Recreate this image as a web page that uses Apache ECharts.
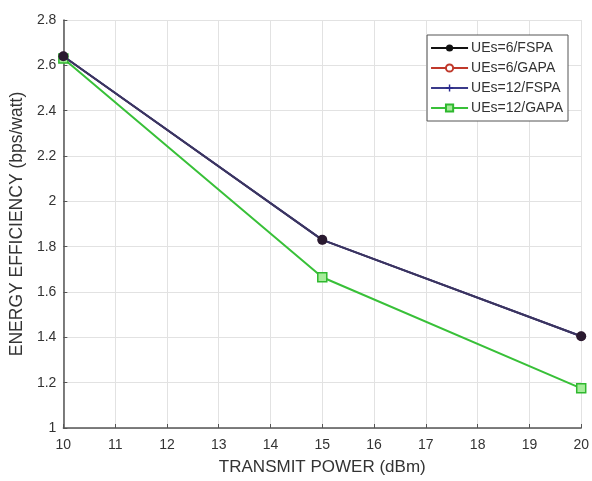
<!DOCTYPE html>
<html>
<head>
<meta charset="utf-8">
<script src="https://cdn.jsdelivr.net/npm/echarts@6/dist/echarts.min.js"></script>
<style>
  html, body { margin: 0; padding: 0; background: #fff; }
  #chart { width: 592px; height: 481px; }
</style>
</head>
<body>
<div id="chart"></div>
<script>
// data
var powers = [10, 15, 20];
var ue6Fspa = [2.64, 1.83, 1.405];
var ue6Gapa = [2.64, 1.83, 1.405];
var ue12Fspa = [2.64, 1.83, 1.405];
var ue12Gapa = [2.63, 1.665, 1.175];

function pairs(vals) {
  return powers.map(function (p, i) { return [p, vals[i]]; });
}

var font = 'Liberation Sans';
var chart = echarts.init(document.getElementById('chart'));

var option = {
  animation: false,
  grid: { left: 63, right: 8, top: 20, bottom: 51 },
  legend: {
    orient: 'vertical',
    right: 24,
    top: 35,
    padding: [6, 5, 6, 3],
    itemGap: 6,
    itemWidth: 37,
    itemHeight: 9,
    borderColor: '#555',
    borderWidth: 1,
    backgroundColor: '#fff',
    textStyle: { fontFamily: font, fontSize: 14, color: '#333', padding: [0, 0, 0, -2] },
    data: [
      { name: 'UEs=6/FSPA', lineStyle: { color: '#111' }, itemStyle: { color: '#111' } },
      { name: 'UEs=6/GAPA' },
      { name: 'UEs=12/FSPA' },
      { name: 'UEs=12/GAPA' }
    ]
  },
  xAxis: {
    type: 'value',
    min: 10,
    max: 20,
    interval: 1,
    name: 'TRANSMIT POWER (dBm)',
    nameLocation: 'middle',
    nameGap: 31,
    nameTextStyle: { fontFamily: font, fontSize: 17, color: '#333' },
    axisLine: { lineStyle: { color: '#555', width: 1.5 } },
    axisTick: { inside: true, length: 4, lineStyle: { color: '#555' } },
    axisLabel: { fontFamily: font, fontSize: 14, color: '#333', margin: 10 },
    splitLine: { show: true, lineStyle: { color: '#e2e2e2' } }
  },
  yAxis: {
    type: 'value',
    min: 1,
    max: 2.8,
    interval: 0.2,
    name: 'ENERGY EFFICIENCY (bps/watt)',
    nameLocation: 'middle',
    nameGap: 32,
    nameTextStyle: { fontFamily: font, fontSize: 17.5, color: '#333' },
    axisLine: { show: true, lineStyle: { color: '#555', width: 1.5 } },
    axisTick: { show: true, inside: true, length: 4, lineStyle: { color: '#555' } },
    axisLabel: {
      fontFamily: font, fontSize: 14, color: '#333', margin: 7,
      formatter: function (v) { return String(Math.round(v * 10) / 10); }
    },
    splitLine: { show: true, lineStyle: { color: '#e2e2e2' } }
  },
  series: [
    {
      name: 'UEs=6/FSPA', type: 'line', data: pairs(ue6Fspa), z: 4,
      symbol: 'circle', symbolSize: 10,
      lineStyle: { color: '#3a3560', width: 2 },
      itemStyle: { color: '#2a1a30' }
    },
    {
      name: 'UEs=6/GAPA', type: 'line', data: pairs(ue6Gapa),
      symbol: 'emptyCircle', symbolSize: 7,
      lineStyle: { color: '#c0392b', width: 1.5 },
      itemStyle: { color: '#c0392b', borderWidth: 1.5 }
    },
    {
      name: 'UEs=12/FSPA', type: 'line', data: pairs(ue12Fspa),
      symbol: 'path://M4,0L6,0L6,4L10,4L10,6L6,6L6,10L4,10L4,6L0,6L0,4L4,4Z', symbolSize: 9,
      lineStyle: { color: '#3a3a8a', width: 2 },
      itemStyle: { color: '#2a2a90' }
    },
    {
      name: 'UEs=12/GAPA', type: 'line', data: pairs(ue12Gapa),
      symbol: 'rect', symbolSize: 9,
      lineStyle: { color: '#38c038', width: 2 },
      itemStyle: { color: '#a6ec9a', borderColor: '#2fb82f', borderWidth: 1.5 }
    }
  ]
};

chart.setOption(option);
</script>
</body>
</html>
